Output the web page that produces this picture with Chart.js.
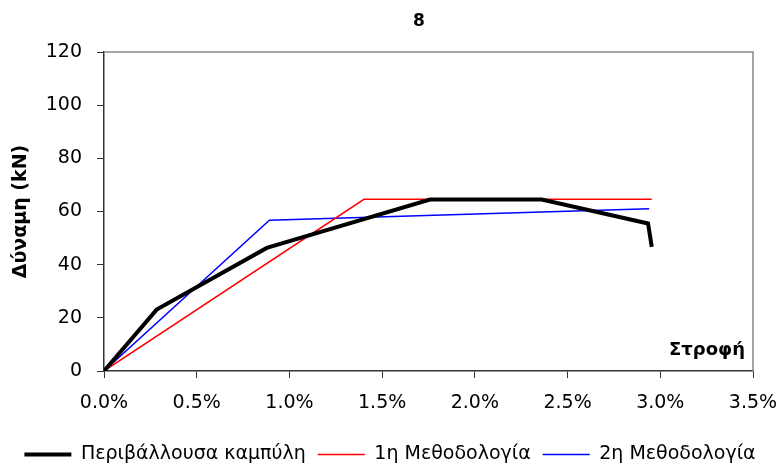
<!DOCTYPE html>
<html>
<head>
<meta charset="utf-8">
<script src="https://cdn.jsdelivr.net/npm/chart.js@4/dist/chart.umd.min.js"></script>
<style>
  html, body { margin: 0; padding: 0; background: #fff; }
  #wrap { width: 780px; height: 466px; }
</style>
</head>
<body>
<div id="wrap"><canvas id="chart"></canvas></div>
<script>
  // rotation (%) / force (kN)
  const envelopeX = [0, 0.284, 0.878, 1.758, 2.36, 2.934, 2.954];
  const envelopeY = [0, 23.1, 46.3, 64.5, 64.5, 55.5, 46.7];
  const method1X = [0, 1.402, 2.954];
  const method1Y = [0, 64.6, 64.6];
  const method2X = [0, 0.892, 2.94];
  const method2Y = [0, 56.7, 61.0];

  const seriesNames = ['Περιβάλλουσα καμπύλη', '1η Μεθοδολογία', '2η Μεθοδολογία'];
  const chartTitle = '8';
  const yTitle = 'Δύναμη (kN)';
  const xTitle = 'Στροφή';

  function toPoints(xs, ys) {
    return xs.map((x, i) => ({ x: x, y: ys[i] }));
  }

  const FONT = "'DejaVu Sans', sans-serif";

  const frame = {
    id: 'frame',
    afterDraw(chart) {
      const { ctx, chartArea } = chart;
      ctx.save();
      ctx.strokeStyle = '#888';
      ctx.lineWidth = 1.5;
      ctx.beginPath();
      ctx.moveTo(chartArea.left, chartArea.top);
      ctx.lineTo(chartArea.right, chartArea.top);
      ctx.lineTo(chartArea.right, chartArea.bottom);
      ctx.stroke();
      ctx.fillStyle = '#000';
      ctx.font = 'bold 18px ' + FONT;
      ctx.textAlign = 'right';
      ctx.textBaseline = 'middle';
      ctx.fillText(xTitle, chartArea.right - 8, chartArea.bottom - 21);
      ctx.font = 'bold 17px ' + FONT;
      ctx.textAlign = 'center';
      ctx.fillText(chartTitle, 419, 22);
      ctx.restore();
    }
  };

  new Chart(document.getElementById('chart'), {
    type: 'scatter',
    data: {
      datasets: [{
        label: seriesNames[0],
        data: toPoints(envelopeX, envelopeY),
        borderColor: '#000',
        backgroundColor: '#000',
        borderWidth: 4,
      }, {
        label: seriesNames[1],
        data: toPoints(method1X, method1Y),
        borderColor: '#ff0000',
        backgroundColor: '#ff0000',
        borderWidth: 1.5,
      }, {
        label: seriesNames[2],
        data: toPoints(method2X, method2Y),
        borderColor: '#0000ff',
        backgroundColor: '#0000ff',
        borderWidth: 1.5,
      }]
    },
    options: {
      responsive: true,
      maintainAspectRatio: false,
      animation: false,
      showLine: true,
      elements: {
        point: { radius: 0, hoverRadius: 0 },
        line: { tension: 0, borderJoinStyle: 'miter' }
      },
      layout: { padding: { left: 0, right: 0, top: 52, bottom: -8 } },
      scales: {
        x: {
          type: 'linear',
          min: 0,
          max: 3.5,
          afterFit(scale) {
            scale.height = 62;
            scale.paddingLeft = 0;
            scale.paddingRight = 27;
          },
          ticks: {
            stepSize: 0.5,
            color: '#000',
            font: { family: FONT, size: 19 },
            padding: 14,
            maxRotation: 0,
            callback: v => v.toFixed(1) + '%'
          },
          grid: { drawOnChartArea: false, drawTicks: true, tickLength: 7, color: '#333' },
          border: { color: '#333', width: 1.5 }
        },
        y: {
          min: 0,
          max: 120,
          afterFit(scale) { scale.width = 104; },
          ticks: {
            stepSize: 20,
            color: '#000',
            font: { family: FONT, size: 19 },
            padding: 15
          },
          grid: { drawOnChartArea: false, drawTicks: true, tickLength: 7, color: '#333' },
          border: { color: '#333', width: 1.5 },
          title: {
            display: true,
            text: yTitle,
            color: '#000',
            font: { family: FONT, size: 19, weight: 'bold' },
            padding: { top: 10, bottom: 0 }
          }
        }
      },
      plugins: {
        title: { display: false },
        legend: {
          position: 'bottom',
          labels: {
            color: '#000',
            font: { family: FONT, size: 19 },
            usePointStyle: true,
            pointStyle: 'line',
            pointStyleWidth: 47,
            padding: 12
          }
        },
        tooltip: { enabled: false }
      }
    },
    plugins: [frame]
  });
</script>
</body>
</html>
